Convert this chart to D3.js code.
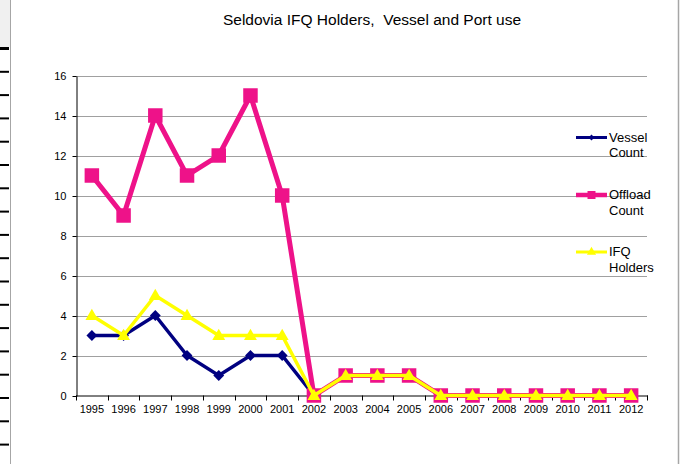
<!DOCTYPE html>
<html>
<head>
<meta charset="utf-8">
<script src="https://cdn.jsdelivr.net/npm/d3@7"></script>
<style>
  html, body { margin: 0; padding: 0; background: #fff; }
  svg { display: block; font-family: "Liberation Sans", Arial, sans-serif; }
</style>
</head>
<body>
<svg id="chart" width="683" height="464"></svg>
<script>
// Seldovia IFQ holders, vessel and port use, 1995–2012
const years = ["1995","1996","1997","1998","1999","2000","2001","2002","2003",
               "2004","2005","2006","2007","2008","2009","2010","2011","2012"];
const vesselCount  = [3, 3, 4, 2, 1, 2, 2, 0, 1, 1, 1, 0, 0, 0, 0, 0, 0, 0];
const offloadCount = [11, 9, 14, 11, 12, 15, 10, 0, 1, 1, 1, 0, 0, 0, 0, 0, 0, 0];
const ifqHolders   = [4, 3, 5, 4, 3, 3, 3, 0, 1, 1, 1, 0, 0, 0, 0, 0, 0, 0];
const yTicks = [0, 2, 4, 6, 8, 10, 12, 14, 16];

const svg = d3.select("#chart");

// page frame at the left and right edges
svg.append("rect").attr("x", 0).attr("y", 0).attr("width", 10).attr("height", 47).attr("fill", "#f0f0f0");
svg.append("line").attr("x1", 10.5).attr("x2", 10.5).attr("y1", 0).attr("y2", 464)
  .attr("stroke", "#a6a6a6").attr("stroke-width", 1);
svg.append("line").attr("x1", 678.5).attr("x2", 678.5).attr("y1", 0).attr("y2", 464)
  .attr("stroke", "#a6a6a6").attr("stroke-width", 1.5);
const ruleYs = d3.range(18).map(i => 48.5 + i * 23.3);
svg.selectAll("line.rule").data(ruleYs).enter().append("line")
  .attr("class", "rule")
  .attr("x1", 0).attr("x2", 9)
  .attr("y1", d => d).attr("y2", d => d)
  .attr("stroke", "#000").attr("stroke-width", (d, i) => i === 0 ? 3 : 2);

// plot area
const plotLeft = 76, plotRight = 647, plotTop = 75.5, plotBottom = 395.5;

const x = d3.scaleBand().domain(years).range([plotLeft, plotRight]).padding(0);
const xc = d => x(d) + x.bandwidth() / 2;
const y = d3.scaleLinear().domain([0, 16]).range([plotBottom, plotTop]);

// gridlines
svg.append("g").selectAll("line").data(yTicks.filter(t => t > 0)).enter().append("line")
  .attr("x1", plotLeft).attr("x2", plotRight)
  .attr("y1", d => Math.round(y(d)) + 0.5).attr("y2", d => Math.round(y(d)) + 0.5)
  .attr("stroke", "#a0a0a0").attr("stroke-width", 1);

// y axis
const yAxis = svg.append("g").attr("transform", `translate(${plotLeft + 0.5},0.5)`)
  .call(d3.axisLeft(y).tickValues(yTicks).tickSize(4).tickPadding(6).tickSizeOuter(0));
yAxis.select(".domain").attr("stroke", "#000");
yAxis.selectAll(".tick line").attr("stroke", "#000");
yAxis.selectAll("text").attr("font-size", 11).attr("fill", "#000")
  .attr("font-family", "Liberation Sans, Arial, sans-serif");

// x axis: labels at category centres, ticks at category boundaries
const xAxis = svg.append("g").attr("transform", `translate(0,${plotBottom + 0.5})`)
  .call(d3.axisBottom(x).tickSize(0).tickPadding(9).tickSizeOuter(0));
xAxis.select(".domain").remove();
xAxis.selectAll("text").attr("font-size", 11).attr("fill", "#000")
  .attr("font-family", "Liberation Sans, Arial, sans-serif");
const bounds = years.map(d => x(d)).concat([plotRight]);
svg.append("g").selectAll("line").data(bounds).enter().append("line")
  .attr("x1", d => Math.round(d) + 0.5).attr("x2", d => Math.round(d) + 0.5)
  .attr("y1", plotBottom).attr("y2", plotBottom + 5)
  .attr("stroke", "#000").attr("stroke-width", 1);
svg.append("line").attr("x1", plotLeft).attr("x2", plotRight + 1)
  .attr("y1", plotBottom + 0.5).attr("y2", plotBottom + 0.5)
  .attr("stroke", "#000").attr("stroke-width", 1);

// series
const series = [
  { name: ["Vessel", "Count"], values: vesselCount, color: "#000080", width: 3.5,
    marker: d3.symbolDiamond2, size: 75, legendSize: 22, dy: 0, legendY: 137.5 },
  { name: ["Offload", "Count"], values: offloadCount, color: "#ee1289", width: 5,
    marker: d3.symbolSquare, size: 210, legendSize: 64, dy: 0, legendY: 195 },
  { name: ["IFQ", "Holders"], values: ifqHolders, color: "#ffff00", width: 3.5,
    marker: d3.symbolTriangle, size: 72, legendSize: 36, dy: 0.8, legendY: 252 }
];

const line = d3.line().x((d, i) => xc(years[i])).y(d => y(d));

series.forEach(s => {
  const g = svg.append("g");
  g.append("path").attr("d", line(s.values))
    .attr("fill", "none").attr("stroke", s.color).attr("stroke-width", s.width)
    .attr("stroke-linejoin", "miter");
  g.selectAll("path.pt").data(s.values).enter().append("path")
    .attr("class", "pt")
    .attr("transform", (d, i) => `translate(${xc(years[i])},${y(d) + s.dy})`)
    .attr("d", d3.symbol().type(s.marker).size(s.size))
    .attr("fill", s.color);
});

// legend
const legend = svg.append("g");
series.forEach(s => {
  const g = legend.append("g");
  g.append("line").attr("x1", 576).attr("x2", 607)
    .attr("y1", s.legendY).attr("y2", s.legendY)
    .attr("stroke", s.color).attr("stroke-width", s.width - 0.5);
  g.append("path").attr("transform", `translate(591.5,${s.legendY})`)
    .attr("d", d3.symbol().type(s.marker).size(s.legendSize))
    .attr("fill", s.color);
  const t = g.append("text").attr("x", 609).attr("y", s.legendY + 4)
    .attr("font-size", 13).attr("fill", "#000");
  t.append("tspan").attr("x", 609).attr("dy", 0).text(s.name[0]);
  t.append("tspan").attr("x", 609).attr("dy", 15.5).text(s.name[1]);
});

// title
svg.append("text").attr("x", 372).attr("y", 25).attr("text-anchor", "middle")
  .attr("font-size", 15.5).attr("fill", "#000")
  .text("Seldovia IFQ Holders,\u00a0 Vessel and Port use");
</script>
</body>
</html>
